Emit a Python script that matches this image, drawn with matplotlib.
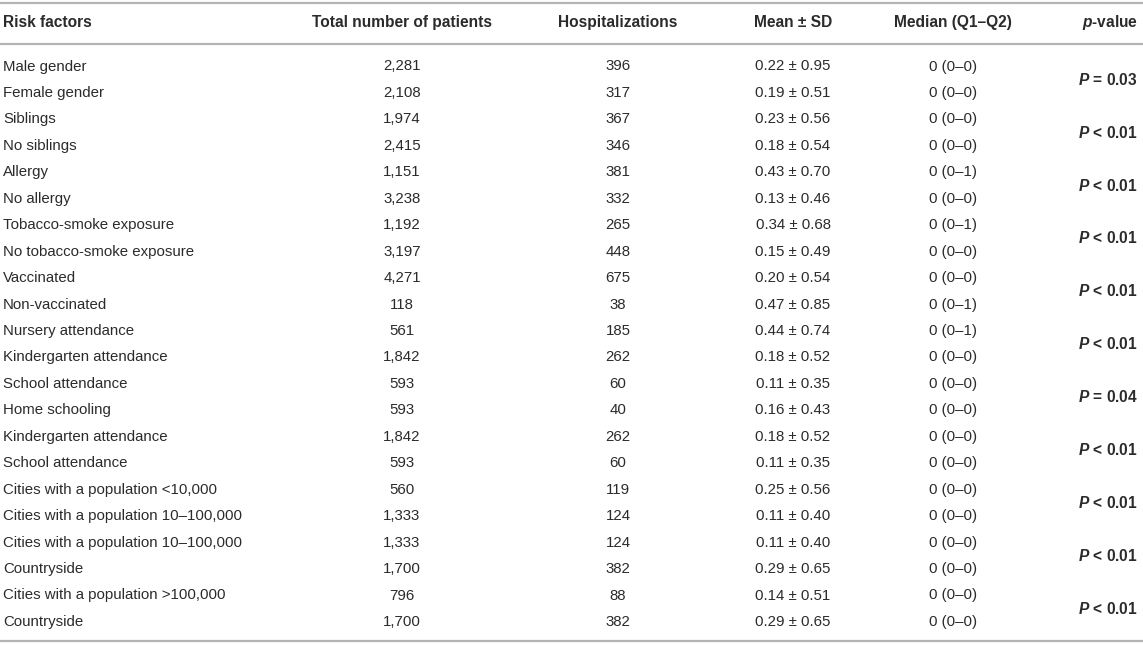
import matplotlib
matplotlib.use("Agg")
import matplotlib.pyplot as plt

plt.rcParams['font.family'] = ['Liberation Sans', 'DejaVu Sans']
plt.rcParams['mathtext.fontset'] = 'custom'
plt.rcParams['mathtext.it'] = 'Liberation Sans:italic'
plt.rcParams['mathtext.bfit'] = 'Liberation Sans:italic:bold'
plt.rcParams['mathtext.bf'] = 'Liberation Sans:bold'

headers = ["Risk factors", "Total number of patients", "Hospitalizations",
           "Mean ± SD", "Median (Q1–Q2)", "p-value"]

risk_factors = [
    "Male gender", "Female gender", "Siblings", "No siblings", "Allergy", "No allergy",
    "Tobacco-smoke exposure", "No tobacco-smoke exposure", "Vaccinated", "Non-vaccinated",
    "Nursery attendance", "Kindergarten attendance", "School attendance", "Home schooling",
    "Kindergarten attendance", "School attendance", "Cities with a population <10,000",
    "Cities with a population 10–100,000", "Cities with a population 10–100,000",
    "Countryside", "Cities with a population >100,000", "Countryside",
]
total_patients = ["2,281", "2,108", "1,974", "2,415", "1,151", "3,238", "1,192", "3,197",
                  "4,271", "118", "561", "1,842", "593", "593", "1,842", "593", "560",
                  "1,333", "1,333", "1,700", "796", "1,700"]
hospitalizations = ["396", "317", "367", "346", "381", "332", "265", "448", "675", "38",
                    "185", "262", "60", "40", "262", "60", "119", "124", "124", "382",
                    "88", "382"]
mean_sd = ["0.22 ± 0.95", "0.19 ± 0.51", "0.23 ± 0.56", "0.18 ± 0.54", "0.43 ± 0.70",
           "0.13 ± 0.46", "0.34 ± 0.68", "0.15 ± 0.49", "0.20 ± 0.54", "0.47 ± 0.85",
           "0.44 ± 0.74", "0.18 ± 0.52", "0.11 ± 0.35", "0.16 ± 0.43", "0.18 ± 0.52",
           "0.11 ± 0.35", "0.25 ± 0.56", "0.11 ± 0.40", "0.11 ± 0.40", "0.29 ± 0.65",
           "0.14 ± 0.51", "0.29 ± 0.65"]
median_q = ["0 (0–0)", "0 (0–0)", "0 (0–0)", "0 (0–0)", "0 (0–1)", "0 (0–0)", "0 (0–1)",
            "0 (0–0)", "0 (0–0)", "0 (0–1)", "0 (0–1)", "0 (0–0)", "0 (0–0)", "0 (0–0)",
            "0 (0–0)", "0 (0–0)", "0 (0–0)", "0 (0–0)", "0 (0–0)", "0 (0–0)", "0 (0–0)",
            "0 (0–0)"]
p_values = ["= 0.03", "< 0.01", "< 0.01", "< 0.01", "< 0.01", "< 0.01", "= 0.04",
            "< 0.01", "< 0.01", "< 0.01", "< 0.01"]

W, H = 1143, 645
fig = plt.figure(figsize=(W / 100, H / 100), dpi=100)
ax = fig.add_axes([0, 0, 1, 1])
ax.set_xlim(0, W)
ax.set_ylim(H, 0)
ax.axis('off')

txt = '#2b2b2b'
fs = 10.8
fsb = 11.2
row0, dy = 66.5, 26.45
header_y = 22.5

col_x = [3, 402, 618, 793, 953, 1138]
col_ha = ['left', 'center', 'center', 'center', 'center', 'right']

# rules
for y in (3, 44, 641):
    ax.plot([0, W], [y, y], color='#b4b4b4', lw=1.6, solid_capstyle='butt')

# headers
for i, h in enumerate(headers):
    if i == 5:
        ax.text(col_x[i], header_y, r"$\mathbfit{p}$" + "-value", ha='right', va='center',
                fontsize=fsb, fontweight='bold', color=txt)
    else:
        ax.text(col_x[i], header_y, h, ha=col_ha[i], va='center', fontsize=fsb,
                fontweight='bold', color=txt)

cols = [risk_factors, total_patients, hospitalizations, mean_sd, median_q]
for r in range(len(risk_factors)):
    y = row0 + r * dy
    for c, data in enumerate(cols):
        ax.text(col_x[c], y, data[r], ha=col_ha[c], va='center', fontsize=fs, color=txt)

for k, pv in enumerate(p_values):
    y = row0 + (2 * k + 0.5) * dy
    ax.text(col_x[5], y, r"$\mathbfit{P}$" + " " + pv, ha='right', va='center',
            fontsize=fsb, fontweight='bold', color=txt)

fig.savefig("out.png", dpi=100)
